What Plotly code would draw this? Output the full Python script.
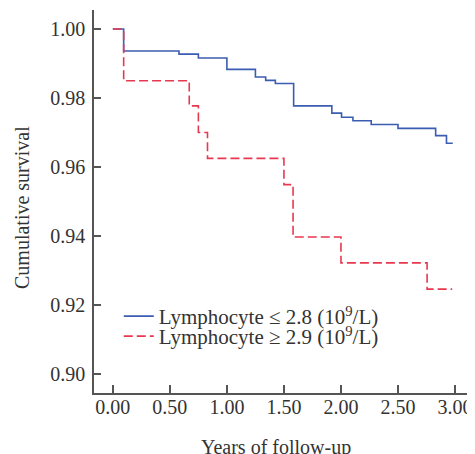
import plotly.graph_objects as go

# Kaplan-Meier step data (years, cumulative survival)
times_low = [0, 0.095, 0.58, 0.75, 1.00, 1.25, 1.34, 1.425, 1.585, 1.92, 2.005, 2.105, 2.265, 2.50, 2.83, 2.925, 2.98]
surv_low = [1.000, 0.9936, 0.9927, 0.9916, 0.9883, 0.9861, 0.9851, 0.9842, 0.9777, 0.9756, 0.9744, 0.9734, 0.9723, 0.9712, 0.9691, 0.9669, 0.9669]

times_high = [0, 0.095, 0.67, 0.75, 0.83, 1.50, 1.58, 2.00, 2.755, 2.975]
surv_high = [1.000, 0.9850, 0.9777, 0.9700, 0.9625, 0.9549, 0.9397, 0.9322, 0.9246, 0.9246]

x_ticks = [0, 0.5, 1.0, 1.5, 2.0, 2.5, 3.0]
x_tick_labels = ["0.00", "0.50", "1.00", "1.50", "2.00", "2.50", "3.00"]
y_ticks = [0.90, 0.92, 0.94, 0.96, 0.98, 1.00]
y_tick_labels = ["0.90", "0.92", "0.94", "0.96", "0.98", "1.00"]

names = ["Lymphocyte ≤ 2.8 (10<sup>9</sup>/L)", "Lymphocyte ≥ 2.9 (10<sup>9</sup>/L)"]

FONT = "Liberation Serif"
BLUE = "#3b5cb0"
RED = "#e8384f"
TXT = "#333"

fig = go.Figure()
fig.add_trace(go.Scatter(x=times_low, y=surv_low, mode="lines", line_shape="hv",
                         line=dict(color=BLUE, width=1.6), name=names[0], legend="legend"))
fig.add_trace(go.Scatter(x=times_high, y=surv_high, mode="lines", line_shape="hv",
                         line=dict(color=RED, width=1.6, dash="9px,4px"), name=names[1],
                         legend="legend2"))

axis_common = dict(showline=True, linecolor="#555", linewidth=1.5, ticks="inside",
                   tickcolor="#555", tickwidth=1.5, showgrid=False, zeroline=False,
                   tickfont=dict(family=FONT, size=20, color=TXT))

# the page body has an 8px margin, so the figure is sized to fit the window
W, H = 467, 446
L, T, B = 86, 2, 61
pw, ph = W - L, H - T - B

leg_common = dict(x=0.065, xanchor="left", yanchor="top", bgcolor="rgba(0,0,0,0)",
                  font=dict(family=FONT, size=21, color=TXT), itemwidth=30)

fig.update_layout(
    width=W, height=H,
    margin=dict(l=L, r=0, t=T, b=B),
    paper_bgcolor="white", plot_bgcolor="white",
    font=dict(family=FONT, size=20, color=TXT),
    showlegend=True,
    xaxis=dict(range=[-0.165, 3.175], tickvals=x_ticks, ticktext=x_tick_labels, ticklen=8,
               **axis_common),
    yaxis=dict(range=[0.8945, 1.0055], tickvals=y_ticks, ticktext=y_tick_labels, ticklen=7,
               **axis_common),
    legend=dict(y=(385 - 288) / ph, **leg_common),
    legend2=dict(y=(385 - 308) / ph, **leg_common),
    annotations=[
        dict(text="Years of follow-up", xref="paper", yref="paper",
             x=(268 - L) / pw, y=-(439 - 385) / ph, xanchor="center", yanchor="middle",
             showarrow=False, font=dict(family=FONT, size=20, color=TXT)),
        dict(text="Cumulative survival", xref="paper", yref="paper", textangle=-90,
             x=-(L - 14) / pw, y=(385 - 200) / ph, xanchor="center", yanchor="middle",
             showarrow=False, font=dict(family=FONT, size=20, color=TXT)),
    ],
)

try:
    fig.update_xaxes(ticklabelstandoff=-5)
    fig.update_yaxes(ticklabelstandoff=3)
except ValueError:
    pass

fig.write_html("out.html")
